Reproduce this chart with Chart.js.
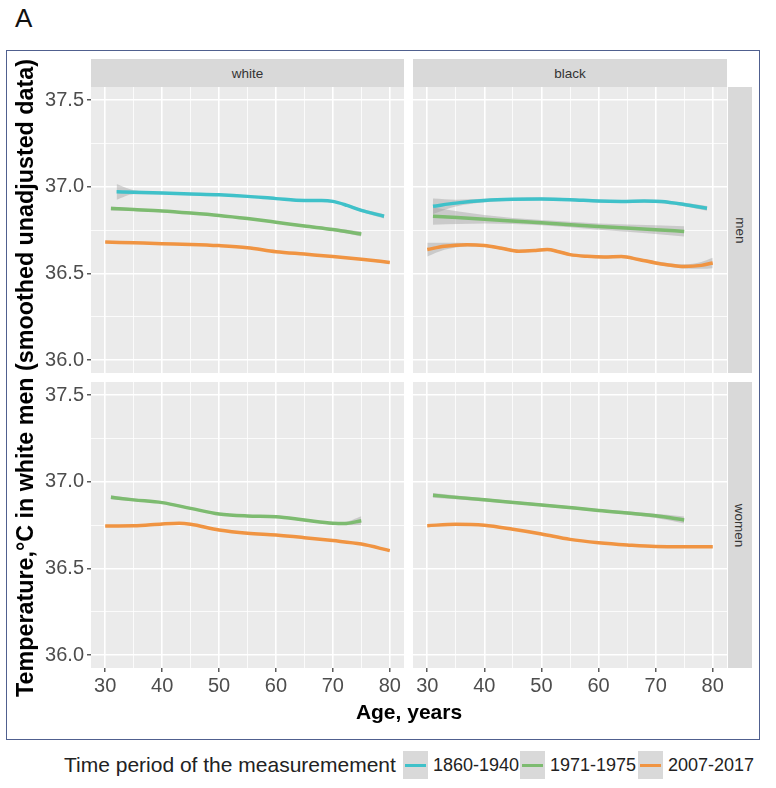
<!DOCTYPE html>
<html>
<head>
<meta charset="utf-8">
<script src="https://cdn.jsdelivr.net/npm/chart.js@4.4.1/dist/chart.umd.min.js"></script>
<style>
  body { margin: 0; width: 776px; height: 788px; background: #fff; position: relative; overflow: hidden;
         font-family: 'Liberation Sans', Arial, sans-serif; }
  .abs { position: absolute; }
  .frame { left: 6px; top: 50px; width: 754px; height: 690px; border: 1.5px solid #50608f; box-sizing: border-box; }
  .strip { background: #d9d9d9; color: #333; font-size: 13.5px; display: flex; align-items: center; justify-content: center; }
  .strip span.rot { transform: rotate(90deg); white-space: nowrap; }
  .key { width: 25px; height: 28px; background: #d9d9d9; top: 751px; }
  .key i { position: absolute; left: 2px; right: 2px; top: 12.5px; height: 3px; }
  .lbl { top: 751px; line-height: 28px; font-size: 18px; color: #222; white-space: nowrap; }
  canvas { position: absolute; }
</style>
</head>
<body>
<div class="abs" style="left:15px;top:3px;font-size:26px;color:#111;">A</div>
<div class="abs frame"></div>

<div class="abs strip" style="left:91px;top:59px;width:313px;height:28px;">white</div>
<div class="abs strip" style="left:413px;top:59px;width:314px;height:28px;">black</div>
<div class="abs strip" style="left:728px;top:87px;width:24px;height:286px;"><span class="rot">men</span></div>
<div class="abs strip" style="left:728px;top:382px;width:24px;height:286px;"><span class="rot">women</span></div>

<canvas id="tl" width="374" height="286" style="left:30px;top:87px;"></canvas>
<canvas id="tr" width="314" height="286" style="left:413px;top:87px;"></canvas>
<canvas id="bl" width="374" height="320" style="left:30px;top:382px;"></canvas>
<canvas id="br" width="314" height="320" style="left:413px;top:382px;"></canvas>

<div class="abs" style="left:-325px;top:365px;width:700px;text-align:center;font-weight:bold;font-size:23.3px;line-height:26px;color:#000;transform:rotate(-90deg);white-space:nowrap;">Temperature,°C in white men (smoothed unadjusted data)</div>
<div class="abs" style="left:259px;top:700px;width:300px;text-align:center;font-weight:bold;font-size:21px;line-height:24px;color:#000;">Age, years</div>

<div class="abs lbl" style="left:64px;font-size:21px;">Time period of the measuremement</div>
<div class="abs key" style="left:403px;"><i style="background:#3fc1c9"></i></div>
<div class="abs lbl" style="left:433px;">1860-1940</div>
<div class="abs key" style="left:520px;"><i style="background:#7dbb70"></i></div>
<div class="abs lbl" style="left:550px;">1971-1975</div>
<div class="abs key" style="left:638px;"><i style="background:#f09442"></i></div>
<div class="abs lbl" style="left:668px;">2007-2017</div>

<script>
// ticks / grid positions
const xTicks = [30, 40, 50, 60, 70, 80];
const xGrid = [30, 35, 40, 45, 50, 55, 60, 65, 70, 75, 80];
const yTicks = [36.0, 36.5, 37.0, 37.5];
const yGrid = [36.0, 36.25, 36.5, 36.75, 37.0, 37.25, 37.5];

// white men
const wmAge1860 = [32, 35, 40, 45, 50, 55, 60, 65, 68, 70, 72.5, 75, 79];
const wmTemp1860 = [36.970, 36.968, 36.963, 36.958, 36.953, 36.944, 36.931, 36.920, 36.920, 36.915, 36.892, 36.863, 36.829];
const wmBand1860 = [0.045, 0.012, 0.007, 0.006, 0.006, 0.006, 0.006, 0.006, 0.007, 0.007, 0.008, 0.009, 0.012];
const wmAge1971 = [31, 35, 40, 45, 50, 55, 60, 65, 70, 75];
const wmTemp1971 = [36.874, 36.868, 36.860, 36.848, 36.834, 36.816, 36.795, 36.773, 36.753, 36.727];
const wmBand1971 = [0.012, 0.008, 0.006, 0.006, 0.006, 0.006, 0.006, 0.007, 0.009, 0.014];
const wmAge2007 = [30, 35, 40, 45, 50, 55, 60, 65, 70, 75, 80];
const wmTemp2007 = [36.681, 36.676, 36.671, 36.667, 36.660, 36.648, 36.625, 36.611, 36.597, 36.581, 36.563];
const wmBand2007 = [0.006, 0.004, 0.004, 0.004, 0.004, 0.004, 0.004, 0.004, 0.004, 0.005, 0.007];

// black men
const bmAge1860 = [31, 35, 40, 45, 50, 55, 60, 64, 68, 71, 75, 79];
const bmTemp1860 = [36.887, 36.905, 36.920, 36.927, 36.929, 36.925, 36.917, 36.915, 36.917, 36.914, 36.897, 36.875];
const bmBand1860 = [0.045, 0.02, 0.01, 0.008, 0.008, 0.008, 0.008, 0.008, 0.008, 0.009, 0.01, 0.014];
const bmAge1971 = [31, 40, 50, 60, 70, 75];
const bmTemp1971 = [36.830, 36.812, 36.792, 36.770, 36.752, 36.742];
const bmBand1971 = [0.05, 0.025, 0.015, 0.018, 0.025, 0.03];
const bmAge2007 = [30, 33, 37, 40, 43, 46, 49, 51, 53, 55, 58, 61, 64, 67, 70, 72, 75, 78, 80];
const bmTemp2007 = [36.637, 36.656, 36.665, 36.660, 36.645, 36.628, 36.632, 36.637, 36.625, 36.608, 36.598, 36.594, 36.597, 36.580, 36.560, 36.550, 36.540, 36.546, 36.560];
const bmBand2007 = [0.04, 0.02, 0.01, 0.008, 0.008, 0.008, 0.008, 0.008, 0.008, 0.008, 0.008, 0.008, 0.008, 0.008, 0.009, 0.01, 0.012, 0.02, 0.03];

// white women
const wwAge1971 = [31, 35, 40, 45, 50, 55, 60, 65, 70, 72, 75];
const wwTemp1971 = [36.910, 36.895, 36.879, 36.846, 36.813, 36.802, 36.798, 36.779, 36.760, 36.758, 36.775];
const wwBand1971 = [0.012, 0.008, 0.006, 0.006, 0.006, 0.006, 0.006, 0.007, 0.008, 0.01, 0.025];
const wwAge2007 = [30, 35, 40, 43, 45, 50, 55, 60, 65, 70, 75, 80];
const wwTemp2007 = [36.744, 36.745, 36.756, 36.760, 36.754, 36.721, 36.702, 36.692, 36.677, 36.660, 36.640, 36.602];
const wwBand2007 = [0.006, 0.004, 0.004, 0.004, 0.004, 0.004, 0.004, 0.004, 0.004, 0.004, 0.005, 0.007];

// black women
const bwAge1971 = [31, 40, 50, 60, 70, 75];
const bwTemp1971 = [36.921, 36.895, 36.866, 36.834, 36.803, 36.779];
const bwBand1971 = [0.014, 0.009, 0.008, 0.008, 0.012, 0.02];
const bwAge2007 = [30, 35, 40, 45, 50, 55, 60, 65, 70, 75, 80];
const bwTemp2007 = [36.746, 36.754, 36.748, 36.725, 36.698, 36.667, 36.648, 36.635, 36.626, 36.625, 36.625];
const bwBand2007 = [0.008, 0.005, 0.005, 0.005, 0.005, 0.005, 0.005, 0.005, 0.005, 0.006, 0.008];

const lineColors = { '1860': '#3fc1c9', '1971': '#7dbb70', '2007': '#f09442' };
const bandColor = 'rgba(153,153,153,0.4)';

Chart.defaults.font.family = "'Liberation Sans', Arial, sans-serif";

const panelBg = {
  id: 'panelBg',
  beforeDraw(chart) {
    const { ctx, chartArea: a } = chart;
    ctx.save();
    ctx.fillStyle = '#ebebeb';
    ctx.fillRect(a.left, a.top, a.right - a.left, a.bottom - a.top);
    ctx.restore();
  }
};

function noPad(s) { s.paddingLeft = 0; s.paddingRight = 0; s.paddingTop = 0; s.paddingBottom = 0; }

function makePanel(id, series, showY, showX) {
  const pts = (age, vals) => age.map((a, i) => ({ x: a, y: vals[i] }));
  const datasets = [];
  series.forEach(s => {
    datasets.push({ data: pts(s.age, s.temp), borderColor: lineColors[s.p], borderWidth: 3.5, order: 0, fill: false });
  });
  series.forEach(s => {
    datasets.push({ data: pts(s.age, s.temp.map((v, i) => v - s.band[i])), borderWidth: 0, order: 1, fill: false });
    datasets.push({ data: pts(s.age, s.temp.map((v, i) => v + s.band[i])), borderWidth: 0, order: 1, fill: '-1', backgroundColor: bandColor });
  });

  new Chart(document.getElementById(id), {
    type: 'line',
    data: { datasets },
    plugins: [panelBg],
    options: {
      responsive: false,
      animation: false,
      events: [],
      layout: { padding: 0 },
      elements: { point: { radius: 0 }, line: { cubicInterpolationMode: 'monotone' } },
      plugins: { legend: { display: false }, tooltip: { enabled: false } },
      scales: {
        x: {
          type: 'linear', min: 27.5, max: 82.5,
          afterBuildTicks: s => { s.ticks = xGrid.map(v => ({ value: v })); },
          afterFit: s => { s.height = showX ? 34 : 0; noPad(s); },
          border: { display: false },
          grid: {
            color: '#ffffff',
            lineWidth: c => xTicks.includes(c.tick.value) ? 1.6 : 0.8,
            drawTicks: showX, tickLength: 4, tickWidth: 1.2,
            tickColor: c => xTicks.includes(c.tick.value) ? '#333333' : 'rgba(0,0,0,0)'
          },
          ticks: {
            display: showX, autoSkip: false, maxRotation: 0, padding: 2,
            color: '#4d4d4d', font: { size: 20 },
            callback: v => xTicks.includes(v) ? String(v) : ''
          }
        },
        y: {
          type: 'linear', min: 35.925, max: 37.575,
          afterBuildTicks: s => { s.ticks = yGrid.map(v => ({ value: v })); },
          afterFit: s => { s.width = showY ? 61 : 0; noPad(s); },
          border: { display: false },
          grid: {
            color: '#ffffff',
            lineWidth: c => yTicks.includes(c.tick.value) ? 1.6 : 0.8,
            drawTicks: showY, tickLength: 4, tickWidth: 1.2,
            tickColor: c => yTicks.includes(c.tick.value) ? '#333333' : 'rgba(0,0,0,0)'
          },
          ticks: {
            display: showY, autoSkip: false, padding: 3,
            color: '#4d4d4d', font: { size: 20 },
            callback: v => yTicks.includes(v) ? v.toFixed(1) : ''
          }
        }
      }
    }
  });
}

makePanel('tl', [
  { p: '1860', age: wmAge1860, temp: wmTemp1860, band: wmBand1860 },
  { p: '1971', age: wmAge1971, temp: wmTemp1971, band: wmBand1971 },
  { p: '2007', age: wmAge2007, temp: wmTemp2007, band: wmBand2007 }
], true, false);

makePanel('tr', [
  { p: '1860', age: bmAge1860, temp: bmTemp1860, band: bmBand1860 },
  { p: '1971', age: bmAge1971, temp: bmTemp1971, band: bmBand1971 },
  { p: '2007', age: bmAge2007, temp: bmTemp2007, band: bmBand2007 }
], false, false);

makePanel('bl', [
  { p: '1971', age: wwAge1971, temp: wwTemp1971, band: wwBand1971 },
  { p: '2007', age: wwAge2007, temp: wwTemp2007, band: wwBand2007 }
], true, true);

makePanel('br', [
  { p: '1971', age: bwAge1971, temp: bwTemp1971, band: bwBand1971 },
  { p: '2007', age: bwAge2007, temp: bwTemp2007, band: bwBand2007 }
], false, true);
</script>
</body>
</html>
